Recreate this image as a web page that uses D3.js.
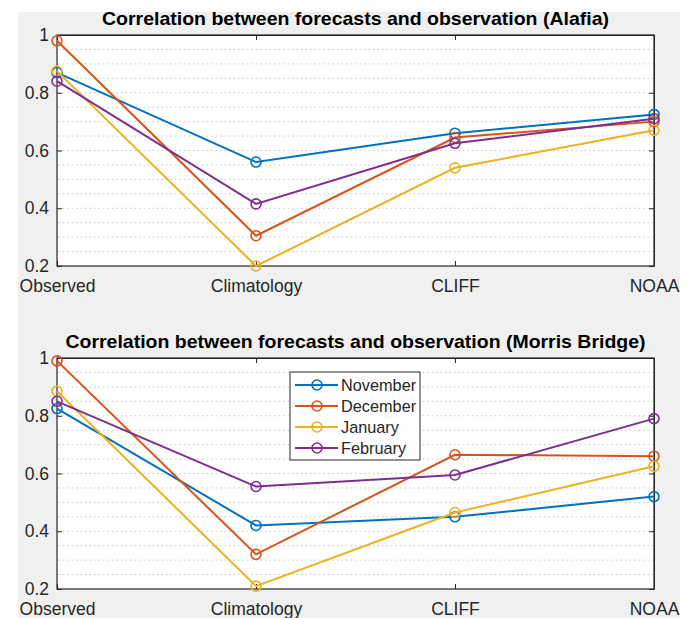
<!DOCTYPE html>
<html lang="en">
<head>
<meta charset="UTF-8">
<title>Correlation</title>
<script src="https://cdn.jsdelivr.net/npm/d3@7"></script>
<style>
  body { margin: 0; background: #fff; }
  text { font-family: "Liberation Sans", Arial, Helvetica, sans-serif; }
</style>
</head>
<body>
<div id="container"></div>
<script>
  // categories on the x axis
  const categories = ["Observed", "Climatology", "CLIFF", "NOAA"];
  const months = ["November", "December", "January", "February"];
  const yTicks = [0.2, 0.4, 0.6, 0.8, 1];

  // Alafia
  const alafiaNov = [0.87, 0.56, 0.66, 0.725];
  const alafiaDec = [0.98, 0.305, 0.645, 0.70];
  const alafiaJan = [0.875, 0.20, 0.54, 0.67];
  const alafiaFeb = [0.84, 0.415, 0.625, 0.71];

  // Morris Bridge
  const morrisNov = [0.825, 0.42, 0.45, 0.52];
  const morrisDec = [0.99, 0.32, 0.665, 0.66];
  const morrisJan = [0.885, 0.21, 0.465, 0.625];
  const morrisFeb = [0.85, 0.555, 0.595, 0.79];

  const colors = ["#0072BD", "#D95319", "#EDB120", "#7E2F8E"];

  const W = 694, H = 618;
  const svg = d3.select("#container").append("svg")
      .attr("width", W).attr("height", H);

  // figure background
  svg.append("rect").attr("x", 18).attr("y", 12)
      .attr("width", 662).attr("height", H - 12).attr("fill", "#f0f0f0");

  function panel(title, titleW, series, top, showLegend) {
    const left = 57, right = 654, bottom = top + 231;
    const x = d3.scalePoint().domain(categories).range([left, right]);
    const y = d3.scaleLinear().domain([0.2, 1]).range([bottom, top]);
    const g = svg.append("g");

    g.append("rect").attr("x", left).attr("y", top)
        .attr("width", right - left).attr("height", bottom - top)
        .attr("fill", "#fff");

    // dotted grid every 0.05
    const grid = d3.range(0.25, 1.0, 0.05);
    g.selectAll(".grid").data(grid).enter().append("line")
        .attr("x1", left + 1).attr("x2", right - 1)
        .attr("y1", d => y(d)).attr("y2", d => y(d))
        .attr("stroke", "#c8c8c8").attr("stroke-width", 1)
        .attr("stroke-dasharray", "1.5,3");

    // axes
    const ax = g.append("g").attr("transform", `translate(${left},0)`)
        .call(d3.axisLeft(y).tickValues(yTicks).tickFormat(d3.format("~g")).tickSizeInner(-5).tickSizeOuter(0).tickPadding(8));
    const axR = g.append("g").attr("transform", `translate(${right},0)`)
        .call(d3.axisRight(y).tickValues(yTicks).tickSizeInner(-5).tickSizeOuter(0).tickFormat(""));
    const axB = g.append("g").attr("transform", `translate(0,${bottom})`)
        .call(d3.axisBottom(x).tickSizeInner(-5).tickSizeOuter(0).tickPadding(14));
    const axT = g.append("g").attr("transform", `translate(0,${top})`)
        .call(d3.axisTop(x).tickSizeInner(-5).tickSizeOuter(0).tickFormat(""));
    [ax, axR, axB, axT].forEach(a => {
      a.selectAll("path, line").attr("stroke", "#262626").attr("stroke-width", 1);
      a.selectAll("text").attr("fill", "#262626").attr("font-size", 17.5)
          .attr("font-family", "Liberation Sans, Arial, sans-serif");
    });
    ax.select(".domain").remove();
    axB.select(".domain").remove();
    g.append("rect").attr("x", left).attr("y", top)
        .attr("width", right - left).attr("height", bottom - top)
        .attr("fill", "none").attr("stroke", "#262626").attr("stroke-width", 1.2);

    g.append("text").attr("x", (left + right) / 2).attr("y", top - 10)
        .attr("text-anchor", "middle").attr("font-weight", "bold")
        .attr("font-size", 19).attr("fill", "#000")
        .attr("textLength", titleW).attr("lengthAdjust", "spacingAndGlyphs")
        .text(title);

    const line = d3.line().x((d, i) => x(categories[i])).y(d => y(d));
    series.forEach((s, k) => {
      g.append("path").datum(s).attr("d", line).attr("fill", "none")
          .attr("stroke", colors[k]).attr("stroke-width", 2);
      g.selectAll(".m" + k).data(s).enter().append("circle")
          .attr("cx", (d, i) => x(categories[i])).attr("cy", d => y(d))
          .attr("r", 5).attr("fill", "none")
          .attr("stroke", colors[k]).attr("stroke-width", 1.6);
    });

    if (showLegend) {
      const lg = g.append("g");
      lg.append("rect").attr("x", 290).attr("y", 372).attr("width", 130).attr("height", 88)
          .attr("fill", "#fff").attr("stroke", "#262626").attr("stroke-width", 1);
      months.forEach((m, k) => {
        const yy = 385 + k * 21;
        lg.append("line").attr("x1", 295).attr("x2", 338).attr("y1", yy).attr("y2", yy)
            .attr("stroke", colors[k]).attr("stroke-width", 2);
        lg.append("circle").attr("cx", 317).attr("cy", yy).attr("r", 5)
            .attr("fill", "none").attr("stroke", colors[k]).attr("stroke-width", 1.6);
        lg.append("text").attr("x", 341).attr("y", yy).attr("dy", "0.35em")
            .attr("font-size", 16.3).attr("fill", "#262626").text(m);
      });
    }
  }

  panel("Correlation between forecasts and observation (Alafia)", 507,
        [alafiaNov, alafiaDec, alafiaJan, alafiaFeb], 35, false);
  panel("Correlation between forecasts and observation (Morris Bridge)", 580,
        [morrisNov, morrisDec, morrisJan, morrisFeb], 358, true);
</script>
</body>
</html>
